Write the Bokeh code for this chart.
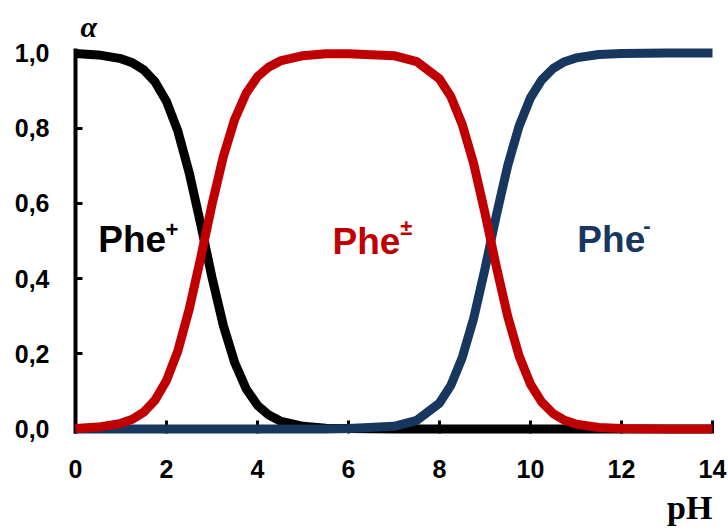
from bokeh.plotting import figure
from bokeh.models import FixedTicker, Title, LinearAxis
from bokeh.embed import file_html
from bokeh.resources import INLINE
from bokeh.core.properties import value

# pH grid and mole fractions of the three phenylalanine forms
ph = [0, 0.5, 1, 1.25, 1.5, 1.75, 2, 2.25, 2.5, 2.75, 3, 3.25, 3.5, 3.75, 4,
      4.25, 4.5, 5, 5.5, 6, 7, 7.5, 8, 8.25, 8.5, 8.75, 9, 9.25, 9.5, 9.75,
      10, 10.25, 10.5, 10.75, 11, 11.5, 12, 13, 14]

phe_cation = [0.999, 0.995, 0.985, 0.974, 0.955, 0.923, 0.871, 0.792, 0.681,
              0.546, 0.403, 0.275, 0.176, 0.107, 0.063, 0.037, 0.021, 0.007,
              0.002, 0.001, 0, 0, 0, 0, 0, 0, 0, 0, 0, 0, 0, 0, 0, 0, 0, 0,
              0, 0, 0]

phe_zwitterion = [0.001, 0.005, 0.015, 0.026, 0.045, 0.077, 0.129, 0.208,
                  0.319, 0.454, 0.597, 0.725, 0.824, 0.893, 0.937, 0.963,
                  0.979, 0.993, 0.998, 0.998, 0.993, 0.977, 0.931, 0.884,
                  0.810, 0.706, 0.574, 0.431, 0.299, 0.194, 0.119, 0.071,
                  0.041, 0.023, 0.013, 0.004, 0.001, 0, 0]

phe_anion = [0, 0, 0, 0, 0, 0, 0, 0, 0, 0, 0, 0, 0, 0, 0, 0, 0, 0, 0, 0.001,
             0.007, 0.023, 0.069, 0.116, 0.190, 0.294, 0.426, 0.569, 0.701,
             0.806, 0.881, 0.929, 0.959, 0.977, 0.987, 0.996, 0.999, 1.0, 1.0]

x_ticks = [0, 2, 4, 6, 8, 10, 12, 14]
y_ticks = [0.0, 0.2, 0.4, 0.6, 0.8, 1.0]
y_tick_labels = ["0,0", "0,2", "0,4", "0,6", "0,8", "1,0"]

BLACK = "#000000"
RED = "#C00000"
BLUE = "#17375E"

p = figure(width=728, height=528, output_backend="svg", toolbar_location=None,
           x_range=(0, 14), y_range=(-0.012, 1.012),
           min_border_left=75, min_border_right=16,
           min_border_top=48, min_border_bottom=95)
p.background_fill_color = "white"
p.border_fill_color = "white"
p.outline_line_color = None
p.grid.visible = False

# curves drawn above the axes: black under blue, red on top
for series, color in ((phe_cation, BLACK), (phe_anion, BLUE), (phe_zwitterion, RED)):
    p.line(ph, series, line_color=color, line_width=9, line_join="round",
           level="overlay")

# axes
for ax in (p.xaxis[0], p.yaxis[0]):
    ax.axis_line_color = BLACK
    ax.axis_line_width = 4
    ax.major_tick_line_color = BLACK
    ax.major_tick_line_width = 3
    ax.major_tick_out = 0
    ax.minor_tick_in = 0
    ax.minor_tick_out = 0
    ax.major_label_text_font = "Liberation Sans"
    ax.major_label_text_font_style = "bold"
    ax.major_label_text_font_size = "25px"
    ax.major_label_text_color = BLACK

xax = p.xaxis[0]
xax.axis_line_color = None
xax.ticker = FixedTicker(ticks=x_ticks)
xax.major_tick_in = 13
xax.major_label_standoff = 26

yax = p.yaxis[0]
yax.ticker = FixedTicker(ticks=y_ticks)
yax.major_label_overrides = {t: s for t, s in zip(y_ticks, y_tick_labels)}
yax.major_tick_in = 7
yax.major_label_standoff = 26

# axis title α above the y axis
p.add_layout(Title(text="α", align="left", offset=5, standoff=12,
                   text_font="Liberation Serif", text_font_style="bold italic",
                   text_font_size="30px", text_color=BLACK), "above")

# axis title pH under the right end of the x axis, as a one-label axis
PH_TITLE_AT = 13.5
ph_axis = LinearAxis(ticker=FixedTicker(ticks=[PH_TITLE_AT]),
                     major_label_overrides={PH_TITLE_AT: "pH"},
                     axis_line_color=None, major_tick_line_color=None,
                     minor_tick_line_color=None, major_tick_in=0,
                     major_tick_out=0, minor_tick_in=0, minor_tick_out=0,
                     major_label_standoff=8,
                     major_label_text_font="Liberation Serif",
                     major_label_text_font_style="bold",
                     major_label_text_font_size="34px",
                     major_label_text_color=BLACK)
p.add_layout(ph_axis, "below")

# species labels
def species(x, y, name, sx, sy, sup, color):
    p.text([x], [y], text=[name], text_font=value("Liberation Sans"),
           text_font_style="bold", text_font_size="37px", text_color=color,
           text_align="left", text_baseline="alphabetic")
    p.text([sx], [sy], text=[sup], text_font=value("Liberation Sans"),
           text_font_style="bold", text_font_size="22px", text_color=color,
           text_align="left", text_baseline="alphabetic")

species(0.50, 0.503, "Phe", 1.98, 0.53, "+", BLACK)
species(5.65, 0.500, "Phe", 7.14, 0.535, "±", RED)
species(11.03, 0.503, "Phe", 12.48, 0.54, "-", BLUE)

open("out.html", "w").write(file_html(p, INLINE))
